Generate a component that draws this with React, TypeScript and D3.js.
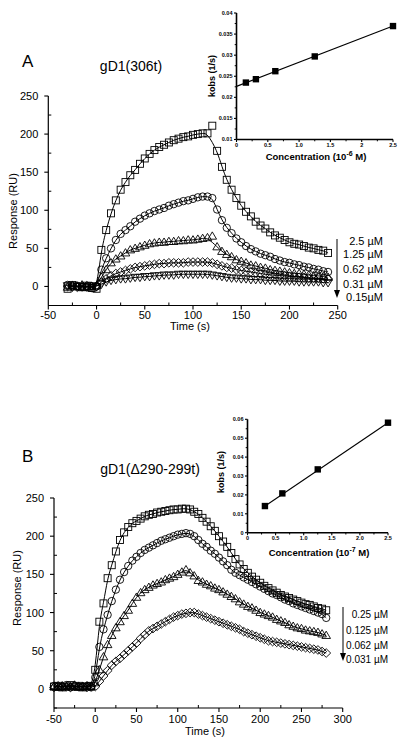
import React from "react";
import * as d3 from "d3";

const FONT = "'Liberation Sans', Arial, Helvetica, sans-serif";

// ---------------- Panel A : gD1(306t) ----------------
const timeA = [-30, -25, -20, -15, -10, -5, 0, 5, 10, 15, 20, 25, 30, 35, 40, 45, 50, 55, 60, 65, 70, 75, 80, 85, 90, 95, 100, 105, 110, 115, 120, 125, 130, 135, 140, 145, 150, 155, 160, 165, 170, 175, 180, 185, 190, 195, 200, 205, 210, 215, 220, 225, 230, 235, 240];
const a_2_5 = [-3, 2, 0, -1, 1, -2, -3, 48, 74, 96, 113, 127, 137, 146, 153, 161, 168, 174, 179, 183, 186, 189, 192, 194, 196, 197, 199, 200, 201, 201, 211, 178, 157, 140, 127, 116, 106, 98, 92, 85, 80, 76, 71, 67, 64, 61, 58, 56, 55, 53, 51, 50, 48, 47, 44];
const a_1_25 = [2, 0, 1, -1, 0, -2, 0, 22, 37, 50, 61, 69, 74, 79, 85, 89, 93, 96, 99, 101, 103, 106, 108, 110, 112, 113, 115, 117, 118, 118, 116, 101, 87, 77, 70, 63, 58, 53, 49, 46, 43, 41, 39, 36, 34, 32, 31, 29, 28, 26, 25, 23, 22, 20, 19];
const a_0_62 = [-1, 1, 0, 2, -1, 0, 1, 12, 22, 31, 36, 40, 44, 48, 50, 52, 54, 56, 57, 58, 58, 59, 59, 60, 60, 61, 61, 62, 63, 64, 66, 52, 46, 42, 39, 35, 33, 31, 28, 27, 25, 24, 22, 21, 20, 19, 18, 17, 17, 16, 15, 14, 14, 13, 12];
const a_0_31 = [0, 1, -1, 0, 1, 0, 0, 6, 10, 14, 17, 19, 21, 23, 25, 26, 27, 28, 29, 30, 30, 31, 31, 31, 31, 32, 32, 32, 32, 32, 31, 29, 27, 25, 24, 22, 21, 20, 19, 18, 17, 16, 15, 15, 14, 14, 13, 13, 12, 12, 11, 11, 11, 10, 10];
const a_0_15 = [1, -1, 0, 0, -1, 1, 0, 3, 6, 8, 9, 10, 10, 11, 12, 12, 13, 13, 14, 14, 15, 15, 15, 16, 16, 16, 16, 16, 16, 16, 15, 14, 13, 12, 11, 11, 10, 10, 9, 9, 9, 8, 8, 8, 7, 7, 7, 7, 6, 6, 6, 6, 6, 5, 5];
const legendA = ["2.5 \u00B5M", "1.25 \u00B5M", "0.62 \u00B5M", "0.31 \u00B5M", "0.15\u00B5M"];
const xTicksA = [-50, 0, 50, 100, 150, 200, 250];
const xMinorA = [-25, 25, 75, 125, 175, 225];
const yTicksMain = [0, 50, 100, 150, 200, 250];
const yMinorMain = [-25, 25, 75, 125, 175, 225];

// inset A
const concA = [0.15, 0.31, 0.62, 1.25, 2.5];
const kobsA = [0.0235, 0.0243, 0.0262, 0.0297, 0.0369];
const fitAx = [0, 2.5];
const fitAy = [0.0226, 0.0369];
const insetAYTicks = [0.01, 0.015, 0.02, 0.025, 0.03, 0.035, 0.04];
const insetAYLabels = ["0.01", "0.015", "0.02", "0.025", "0.03", "0.035", "0.04"];
const insetAYMinor = [0.0125, 0.0175, 0.0225, 0.0275, 0.0325, 0.0375];
const insetXTicks = [0, 0.5, 1, 1.5, 2, 2.5];
const insetAXLabels = ["0", "0.5", "1.0", "1.5", "2", "2.5"];
const insetXMinor = [0.25, 0.75, 1.25, 1.75, 2.25];

// ---------------- Panel B : gD1(Δ290-299t) ----------------
const timeB = [-50, -45, -40, -35, -30, -25, -20, -15, -10, -5, 0, 5, 10, 15, 20, 25, 30, 35, 40, 45, 50, 55, 60, 65, 70, 75, 80, 85, 90, 95, 100, 105, 110, 115, 120, 125, 130, 135, 140, 145, 150, 155, 160, 165, 170, 175, 180, 185, 190, 195, 200, 205, 210, 215, 220, 225, 230, 235, 240, 245, 250, 255, 260, 265, 270, 275, 280];
const b_0_25 = [3, 4, 2, 3, 5, 3, 4, 2, 3, 4, 25, 88, 112, 145, 162, 180, 195, 205, 212, 217, 220, 223, 226, 228, 229, 231, 232, 233, 234, 235, 235, 236, 236, 235, 232, 229, 224, 219, 213, 207, 200, 193, 186, 178, 170, 163, 157, 152, 147, 143, 139, 135, 132, 129, 126, 123, 121, 119, 117, 115, 113, 111, 110, 108, 106, 105, 103];
const b_0_125 = [4, 3, 3, 5, 2, 4, 3, 3, 4, 2, 15, 55, 78, 97, 115, 130, 143, 153, 161, 168, 173, 178, 182, 185, 188, 191, 194, 196, 198, 200, 202, 203, 204, 203, 200, 195, 190, 186, 181, 177, 172, 167, 162, 156, 152, 149, 146, 143, 140, 137, 134, 131, 128, 125, 123, 120, 117, 115, 112, 110, 108, 106, 104, 102, 100, 98, 93];
const b_0_062 = [3, 2, 4, 3, 3, 5, 2, 3, 4, 3, 8, 25, 42, 58, 70, 80, 88, 96, 103, 112, 120, 126, 130, 133, 136, 138, 140, 143, 145, 147, 150, 153, 156, 152, 148, 142, 140, 137, 135, 132, 130, 127, 124, 121, 118, 114, 111, 108, 106, 103, 100, 98, 96, 94, 91, 89, 87, 84, 82, 80, 79, 77, 76, 75, 74, 72, 70];
const b_0_031 = [2, 4, 3, 3, 2, 4, 3, 3, 2, 3, 3, 10, 17, 24, 31, 36, 40, 45, 50, 55, 60, 66, 71, 76, 79, 82, 85, 88, 91, 94, 96, 98, 99, 100, 100, 98, 96, 94, 92, 90, 88, 86, 84, 82, 80, 78, 75, 73, 71, 69, 67, 65, 63, 62, 61, 60, 59, 58, 57, 56, 55, 54, 53, 52, 51, 49, 47];
const legendB = ["0.25 \u00B5M", "0.125 \u00B5M", "0.062 \u00B5M", "0.031 \u00B5M"];
const xTicksB = [-50, 0, 50, 100, 150, 200, 250, 300];
const xMinorB = [-25, 25, 75, 125, 175, 225, 275];

// inset B
const concB = [0.31, 0.62, 1.25, 2.5];
const kobsB = [0.0141, 0.0208, 0.0335, 0.0582];
const fitBx = [0.28, 2.5];
const fitBy = [0.0135, 0.0582];
const insetBYTicks = [0, 0.01, 0.02, 0.03, 0.04, 0.05, 0.06];
const insetBYLabels = ["0", "0.01", "0.02", "0.03", "0.04", "0.05", "0.06"];
const insetBYMinor = [0.005, 0.015, 0.025, 0.035, 0.045, 0.055];
const insetBXLabels = ["0", "0.5", "1.0", "1.5", "2.0", "2.5"];

type Shape = "square" | "circle" | "up" | "down" | "diamond";
interface Series { shape: Shape; values: number[]; skip?: number[] }

const seriesA: Series[] = [
  { shape: "square", values: a_2_5, skip: [120] },
  { shape: "circle", values: a_1_25 },
  { shape: "up", values: a_0_62, skip: [120] },
  { shape: "diamond", values: a_0_31 },
  { shape: "down", values: a_0_15 },
];
const seriesB: Series[] = [
  { shape: "square", values: b_0_25 },
  { shape: "circle", values: b_0_125 },
  { shape: "up", values: b_0_062 },
  { shape: "diamond", values: b_0_031 },
];

function Marker({ shape, x, y }: { shape: Shape; x: number; y: number }) {
  const p = { fill: "none", stroke: "#000", strokeWidth: 0.9 };
  switch (shape) {
    case "square":
      return <rect x={x - 3.5} y={y - 3.5} width={7} height={7} {...p} />;
    case "circle":
      return <circle cx={x} cy={y} r={3.7} {...p} />;
    case "up":
      return <path d={`M${x},${y - 4.3}L${x + 4.3},${y + 3}L${x - 4.3},${y + 3}Z`} {...p} />;
    case "down":
      return <path d={`M${x},${y + 4.3}L${x + 4.3},${y - 3}L${x - 4.3},${y - 3}Z`} {...p} />;
    default:
      return <path d={`M${x},${y - 4.3}L${x + 4.5},${y}L${x},${y + 4.3}L${x - 4.5},${y}Z`} {...p} />;
  }
}

interface PanelProps {
  xDomain: [number, number]; xRange: [number, number];
  yDomain: [number, number]; yRange: [number, number];
  xTicks: number[]; xMinor: number[]; yTicks: number[]; yMinor: number[];
  times: number[]; series: Series[];
  yLabelPos: [number, number]; xLabelPos: [number, number]; tickLabelDy: number;
}

function Panel(props: PanelProps) {
  const x = d3.scaleLinear().domain(props.xDomain).range(props.xRange);
  const y = d3.scaleLinear().domain(props.yDomain).range(props.yRange);
  const axY = props.yRange[0];
  const axX = props.xRange[0];
  const line = d3.line<[number, number]>().x((d) => x(d[0])).y((d) => y(d[1])).curve(d3.curveBasis);
  return (
    <g>
      {props.series.map((s, i) => {
        const pts: [number, number][] = props.times
          .map((t, j) => [t, s.values[j]] as [number, number])
          .filter((d) => !(s.skip || []).includes(d[0]));
        return <path key={"l" + i} d={line(pts) || ""} fill="none" stroke="#000" strokeWidth={1} />;
      })}
      {props.series.map((s, i) => (
        <g key={"m" + i}>
          {props.times.map((t, j) => (
            <Marker key={j} shape={s.shape} x={x(t)} y={y(s.values[j])} />
          ))}
        </g>
      ))}
      <line x1={axX} x2={props.xRange[1]} y1={axY} y2={axY} stroke="#000" strokeWidth={1.2} />
      <line x1={axX} x2={axX} y1={axY} y2={props.yRange[1]} stroke="#000" strokeWidth={1.2} />
      {props.xTicks.map((t) => (
        <g key={"xt" + t}>
          <line x1={x(t)} x2={x(t)} y1={axY} y2={axY + 4} stroke="#000" strokeWidth={1.1} />
          <text x={x(t)} y={axY + props.tickLabelDy} textAnchor="middle" fontSize={11} fontFamily={FONT}>{t}</text>
        </g>
      ))}
      {props.xMinor.map((t) => (
        <line key={"xm" + t} x1={x(t)} x2={x(t)} y1={axY - 3} y2={axY} stroke="#000" strokeWidth={1} />
      ))}
      {props.yTicks.map((t) => (
        <g key={"yt" + t}>
          <line x1={axX - 4} x2={axX} y1={y(t)} y2={y(t)} stroke="#000" strokeWidth={1.1} />
          <text x={axX - 10} y={y(t)} dy="0.36em" textAnchor="end" fontSize={11} fontFamily={FONT}>{t}</text>
        </g>
      ))}
      {props.yMinor.map((t) => (
        <line key={"ym" + t} x1={axX} x2={axX + 3} y1={y(t)} y2={y(t)} stroke="#000" strokeWidth={1} />
      ))}
      <text transform={`translate(${props.yLabelPos[0]},${props.yLabelPos[1]}) rotate(-90)`} textAnchor="middle" dy="0.35em" fontSize={11} fontFamily={FONT}>Response (RU)</text>
      <text x={props.xLabelPos[0]} y={props.xLabelPos[1]} textAnchor="middle" fontSize={11} fontFamily={FONT}>Time (s)</text>
    </g>
  );
}

interface InsetProps {
  xRange: [number, number]; yDomain: [number, number]; yRange: [number, number];
  yTicks: number[]; yLabels: string[]; yMinor: number[]; xLabels: string[];
  conc: number[]; kobs: number[]; fitX: number[]; fitY: number[];
  exponent: string; yLabelPos: [number, number]; xLabelPos: [number, number];
}

function Inset(p: InsetProps) {
  const x = d3.scaleLinear().domain([0, 2.5]).range(p.xRange);
  const y = d3.scaleLinear().domain(p.yDomain).range(p.yRange);
  const axY = p.yRange[0];
  const axX = p.xRange[0];
  const fit = d3.line<number>().x((d) => x(d)).y((_, i) => y(p.fitY[i]));
  return (
    <g>
      <path d={fit(p.fitX) || ""} stroke="#000" strokeWidth={1.1} fill="none" />
      {p.conc.map((c, i) => (
        <rect key={i} x={x(c) - 3.2} y={y(p.kobs[i]) - 3.2} width={6.4} height={6.4} fill="#000" />
      ))}
      <line x1={axX} x2={p.xRange[1]} y1={axY} y2={axY} stroke="#000" strokeWidth={1.6} />
      <line x1={axX} x2={axX} y1={axY} y2={p.yRange[1]} stroke="#000" strokeWidth={1.6} />
      {insetXTicks.map((t, i) => (
        <g key={"x" + i}>
          <line x1={x(t)} x2={x(t)} y1={axY} y2={axY + 2.5} stroke="#000" strokeWidth={1.1} />
          <text x={x(t)} y={axY + 7.5} textAnchor="middle" fontSize={5.5} fontWeight="bold" fontFamily={FONT}>{p.xLabels[i]}</text>
        </g>
      ))}
      {insetXMinor.map((t, i) => (
        <line key={"xm" + i} x1={x(t)} x2={x(t)} y1={axY} y2={axY + 1.8} stroke="#000" strokeWidth={1} />
      ))}
      {p.yTicks.map((t, i) => (
        <g key={"y" + i}>
          <line x1={axX - 2.5} x2={axX} y1={y(t)} y2={y(t)} stroke="#000" strokeWidth={1.1} />
          <text x={axX - 4} y={y(t)} dy="0.35em" textAnchor="end" fontSize={5.5} fontWeight="bold" fontFamily={FONT}>{p.yLabels[i]}</text>
        </g>
      ))}
      {p.yMinor.map((t, i) => (
        <line key={"ym" + i} x1={axX - 1.8} x2={axX} y1={y(t)} y2={y(t)} stroke="#000" strokeWidth={1} />
      ))}
      <text transform={`translate(${p.yLabelPos[0]},${p.yLabelPos[1]}) rotate(-90)`} textAnchor="middle" dy="0.35em" fontSize={9} fontWeight="bold" fontFamily={FONT}>kobs (1/s)</text>
      <text x={p.xLabelPos[0]} y={p.xLabelPos[1]} textAnchor="middle" fontSize={9.5} fontWeight="bold" fontFamily={FONT}>
        Concentration (10<tspan dy={-4} fontSize={7}>{p.exponent}</tspan><tspan dy={4}> M)</tspan>
      </text>
    </g>
  );
}

function Legend({ labels, x, yTop, yTip, labelX, labelYs, fontSize }: { labels: string[]; x: number; yTop: number; yTip: number; labelX: number; labelYs: number[]; fontSize: number }) {
  return (
    <g>
      <line x1={x} x2={x} y1={yTop} y2={yTip - 6} stroke="#000" strokeWidth={1} />
      <path d={`M${x - 3},${yTip - 8}L${x + 3},${yTip - 8}L${x},${yTip}Z`} fill="#000" />
      {labels.map((l, i) => (
        <text key={i} x={labelX} y={labelYs[i]} dy="0.35em" textAnchor="end" fontSize={fontSize} fontFamily={FONT}>{l}</text>
      ))}
    </g>
  );
}

const titleA = "gD1(306t)";
const titleB = "gD1(\u0394290-299t)";

export default function App() {
  return (
    <svg width={405} height={741} style={{ position: "absolute", left: 0, top: 0, background: "#fff" }}>
      <rect width={405} height={741} fill="#fff" />
      {/* Panel A */}
      <text x={22} y={67} fontSize={17} fontFamily={FONT}>A</text>
      <text x={131} y={71} textAnchor="middle" fontSize={14} fontFamily={FONT}>{titleA}</text>
      <Panel
        xDomain={[-50, 250]} xRange={[48.3, 337.7]}
        yDomain={[-25, 250]} yRange={[305.5, 96]}
        xTicks={xTicksA} xMinor={xMinorA} yTicks={yTicksMain} yMinor={yMinorMain}
        times={timeA} series={seriesA}
        yLabelPos={[13, 211]} xLabelPos={[190, 330]} tickLabelDy={13}
      />
      <Legend labels={legendA} x={337} yTop={239} yTip={298} labelX={383} labelYs={[241, 254, 269, 284, 297]} fontSize={11} />
      <Inset
        xRange={[236.5, 393]} yDomain={[0.01, 0.04]} yRange={[139.5, 13]}
        yTicks={insetAYTicks} yLabels={insetAYLabels} yMinor={insetAYMinor} xLabels={insetAXLabels}
        conc={concA} kobs={kobsA} fitX={fitAx} fitY={fitAy} exponent="-6"
        yLabelPos={[212, 76]} xLabelPos={[316, 160]}
      />
      {/* Panel B */}
      <text x={22} y={462} fontSize={17} fontFamily={FONT}>B</text>
      <text x={150} y={474} textAnchor="middle" fontSize={14} fontFamily={FONT}>{titleB}</text>
      <Panel
        xDomain={[-50, 300]} xRange={[54, 342.7]}
        yDomain={[-25, 250]} yRange={[708, 498]}
        xTicks={xTicksB} xMinor={xMinorB} yTicks={yTicksMain} yMinor={yMinorMain}
        times={timeB} series={seriesB}
        yLabelPos={[17, 588]} xLabelPos={[205, 735]} tickLabelDy={15}
      />
      <Legend labels={legendB} x={343} yTop={607} yTip={661} labelX={388} labelYs={[614, 630, 645, 659]} fontSize={10} />
      <Inset
        xRange={[247.5, 388]} yDomain={[0, 0.06]} yRange={[532.7, 419.3]}
        yTicks={insetBYTicks} yLabels={insetBYLabels} yMinor={insetBYMinor} xLabels={insetBXLabels}
        conc={concB} kobs={kobsB} fitX={fitBx} fitY={fitBy} exponent="-7"
        yLabelPos={[221, 472]} xLabelPos={[319, 556]}
      />
    </svg>
  );
}
